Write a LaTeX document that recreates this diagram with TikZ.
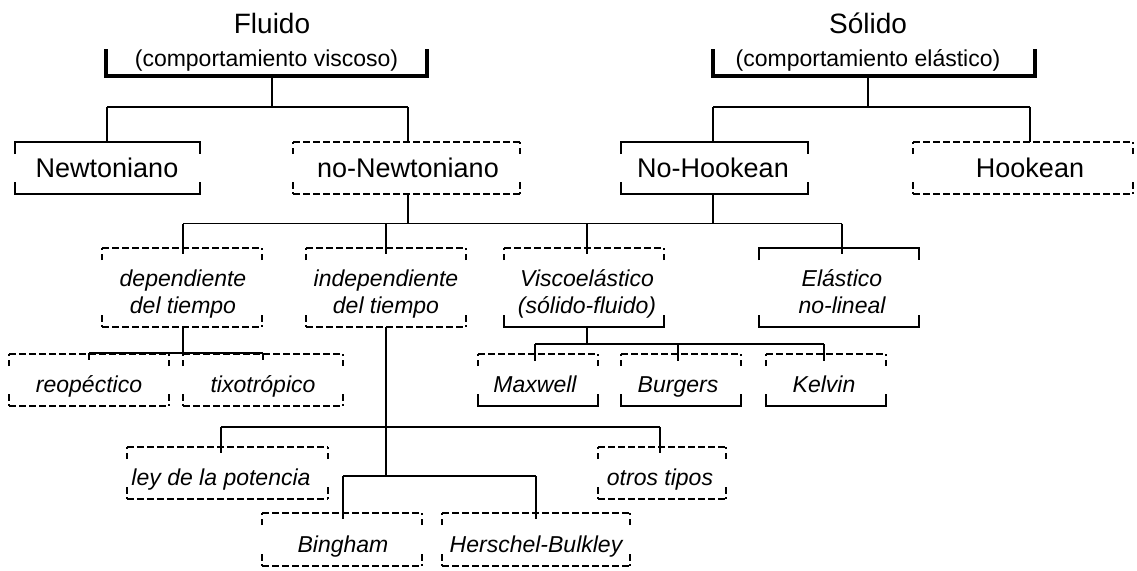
\documentclass[tikz,border=0pt]{standalone}
\usepackage{fontspec}
\setmainfont{Liberation Sans}
\usetikzlibrary{calc}
\newcommand\FontTitle{\fontsize{28}{33}\selectfont}
\newcommand\FontSub{\fontsize{23}{27}\selectfont}
\newcommand\FontBig{\fontsize{27}{32}\selectfont}
\newcommand\FontIt{\fontsize{23}{27}\selectfont\itshape}
\tikzset{
  frame/.style={inner sep=0pt, outer sep=0pt, draw=none},
  lbl/.style={inner sep=0pt, outer sep=0pt, anchor=base},
  dsh/.style={dash pattern=on 6.5pt off 3.5pt},
  thickstem/.style={line width=2.3pt},
}
% bracket pieces
\newcommand\TopSolid[1]{\draw ([yshift=-12pt]#1.north west) -- (#1.north west) -- (#1.north east) -- ([yshift=-12pt]#1.north east);}
\newcommand\BotSolid[1]{\draw ([yshift=12pt]#1.south west) -- (#1.south west) -- (#1.south east) -- ([yshift=12pt]#1.south east);}
\newcommand\TopDash[1]{\draw[dsh] ([yshift=-12pt]#1.north west) -- (#1.north west);
  \draw[dsh] ([yshift=-12pt]#1.north east) -- (#1.north east);
  \draw[dsh] (#1.north west) -- (#1.north east);}
\newcommand\BotDash[1]{\draw[dsh] ([yshift=12pt]#1.south west) -- (#1.south west);
  \draw[dsh] ([yshift=12pt]#1.south east) -- (#1.south east);
  \draw[dsh] (#1.south west) -- (#1.south east);}
\begin{document}
\begin{tikzpicture}[x=1pt,y=-1pt,line width=1.2pt]
\useasboundingbox (0,0) rectangle (1137,570);

% ---------- frames ----------
\node[frame,minimum width=321pt,minimum height=27pt] (fluido) at (266.5,62.5) {};
\node[frame,minimum width=322pt,minimum height=27pt] (solido) at (874,62.5) {};
\node[frame,minimum width=185pt,minimum height=52pt] (newt) at (107.5,168) {};
\node[frame,minimum width=227pt,minimum height=52pt] (nonewt) at (406.5,168) {};
\node[frame,minimum width=187pt,minimum height=52pt] (nohook) at (714.5,168) {};
\node[frame,minimum width=220pt,minimum height=52pt] (hook) at (1023,168) {};
\node[frame,minimum width=160pt,minimum height=79pt] (dep) at (182,287.5) {};
\node[frame,minimum width=160pt,minimum height=79pt] (indep) at (386,287.5) {};
\node[frame,minimum width=160pt,minimum height=79pt] (visco) at (584,287.5) {};
\node[frame,minimum width=160pt,minimum height=79pt] (elast) at (839,287.5) {};
\node[frame,minimum width=160pt,minimum height=52pt] (reop) at (89,380) {};
\node[frame,minimum width=160pt,minimum height=52pt] (tixo) at (263,380) {};
\node[frame,minimum width=120pt,minimum height=52pt] (maxw) at (538,380) {};
\node[frame,minimum width=120pt,minimum height=52pt] (burg) at (681,380) {};
\node[frame,minimum width=120pt,minimum height=52pt] (kelv) at (826,380) {};
\node[frame,minimum width=201pt,minimum height=52pt] (ley) at (227.5,473) {};
\node[frame,minimum width=128pt,minimum height=52pt] (otros) at (662,473) {};
\node[frame,minimum width=160pt,minimum height=53pt] (bing) at (342,539.5) {};
\node[frame,minimum width=188pt,minimum height=53pt] (hers) at (536,539.5) {};

% ---------- texts ----------
\node[lbl,font=\FontTitle] (fluT) at (272,33) {Fluido};
\node[lbl,font=\FontSub] (fluS) at (266.5,66) {(comportamiento viscoso)};
\node[lbl,font=\FontTitle] (solT) at (868,33) {Sólido};
\node[lbl,font=\FontSub] (solS) at (868,66) {(comportamiento elástico)};
\node[lbl,font=\FontBig] (newtT) at (107,177.5) {Newtoniano};
\node[lbl,font=\FontBig] (nonewtT) at (408,177.5) {no-Newtoniano};
\node[lbl,font=\FontBig] (nohookT) at (713,177.5) {No-Hookean};
\node[lbl,font=\FontBig] (hookT) at (1030,177.5) {Hookean};
\node[lbl,font=\FontIt] (depA) at (183,286) {dependiente};
\node[lbl,font=\FontIt] (depB) at (183,313) {del tiempo};
\node[lbl,font=\FontIt] (indepA) at (386,286) {independiente};
\node[lbl,font=\FontIt] (indepB) at (386,313) {del tiempo};
\node[lbl,font=\FontIt] (viscoA) at (587,286) {Viscoelástico};
\node[lbl,font=\FontIt] (viscoB) at (587,313) {(sólido-fluido)};
\node[lbl,font=\FontIt] (elastA) at (842,286) {Elástico};
\node[lbl,font=\FontIt] (elastB) at (842,313) {no-lineal};
\node[lbl,font=\FontIt] (reopT) at (89,392) {reopéctico};
\node[lbl,font=\FontIt] (tixoT) at (263,392) {tixotrópico};
\node[lbl,font=\FontIt] (maxwT) at (535,392) {Maxwell};
\node[lbl,font=\FontIt] (burgT) at (678,392) {Burgers};
\node[lbl,font=\FontIt] (kelvT) at (824,392) {Kelvin};
\node[lbl,font=\FontIt] (leyT) at (221,485) {ley de la potencia};
\node[lbl,font=\FontIt] (otrosT) at (660,485) {otros tipos};
\node[lbl,font=\FontIt] (bingT) at (343,552) {Bingham};
\node[lbl,font=\FontIt] (hersT) at (536,552) {Herschel-Bulkley};

% ---------- brackets ----------
\draw[line width=3.3pt] (fluido.north west) -- (fluido.south west) -- (fluido.south east) -- (fluido.north east);
\draw[line width=3.3pt] (solido.north west) -- (solido.south west) -- (solido.south east) -- (solido.north east);
\TopSolid{newt}\BotSolid{newt}
\TopDash{nonewt}\BotDash{nonewt}
\TopSolid{nohook}\BotSolid{nohook}
\TopDash{hook}\BotDash{hook}
\TopDash{dep}\BotDash{dep}
\TopDash{indep}\BotDash{indep}
\TopDash{visco}\BotSolid{visco}
\TopSolid{elast}\BotSolid{elast}
\TopDash{reop}\BotDash{reop}
\TopDash{tixo}\BotDash{tixo}
\TopDash{maxw}\BotSolid{maxw}
\TopDash{burg}\BotSolid{burg}
\TopDash{kelv}\BotSolid{kelv}
\TopDash{ley}\BotDash{ley}
\TopDash{otros}\BotDash{otros}
\TopDash{bing}\BotDash{bing}
\TopDash{hers}\BotDash{hers}

% ---------- connectors ----------
\coordinate (bus1) at (0,107);
\coordinate (bus2) at (0,223.5);
\coordinate (bus3) at (0,353);
\coordinate (bus4) at (0,344);
\coordinate (bus5) at (0,427);
\coordinate (bus6) at (0,476);

% Fluido
\draw (fluT |- fluido.south) -- (fluT |- bus1);
\draw (newtT |- bus1) -- (nonewtT |- bus1);
\draw (newtT |- bus1) -- (newtT |- newt.north);
\draw (nonewtT |- bus1) -- (nonewtT |- nonewt.north);
% Solido
\draw (solT |- solido.south) -- (solT |- bus1);
\draw (nohookT |- bus1) -- (hookT |- bus1);
\draw (nohookT |- bus1) -- (nohookT |- nohook.north);
\draw (hookT |- bus1) -- (hookT |- hook.north);
% second level
\draw[thickstem] (nonewtT |- nonewt.south) -- (nonewtT |- bus2);
\draw (nohookT |- nohook.south) -- (nohookT |- bus2);
\draw (depA |- bus2) -- (elastA |- bus2);
\draw (depA |- bus2) -- ($(depA |- dep.north)+(0,6)$);
\draw (indepA |- bus2) -- ($(indepA |- indep.north)+(0,6)$);
\draw (viscoA |- bus2) -- ($(viscoA |- visco.north)+(0,6)$);
\draw (elastA |- bus2) -- ($(elastA |- elast.north)+(0,6)$);
% dependiente children
\draw (depA |- dep.south) -- (depA |- bus3);
\draw (reopT |- bus3) -- (tixoT |- bus3);
\draw (reopT |- bus3) -- ($(reopT |- reop.north)+(0,6)$);
\draw (tixoT |- bus3) -- ($(tixoT |- tixo.north)+(0,6)$);
% viscoelastico children
\draw[thickstem] (viscoA |- visco.south) -- (viscoA |- bus4);
\draw (maxwT |- bus4) -- (kelvT |- bus4);
\draw (maxwT |- bus4) -- ($(maxwT |- maxw.north)+(0,7)$);
\draw (burgT |- bus4) -- ($(burgT |- burg.north)+(0,7)$);
\draw (kelvT |- bus4) -- ($(kelvT |- kelv.north)+(0,7)$);
% independiente children
\draw[line width=1.4pt] (indepA |- indep.south) -- (indepA |- bus6);
\draw (leyT |- bus5) -- (otrosT |- bus5);
\draw (leyT |- bus5) -- ($(leyT |- ley.north)+(0,6)$);
\draw (otrosT |- bus5) -- ($(otrosT |- otros.north)+(0,6)$);
\draw (bingT |- bus6) -- (hersT |- bus6);
\draw (bingT |- bus6) -- ($(bingT |- bing.north)+(0,6)$);
\draw (hersT |- bus6) -- ($(hersT |- hers.north)+(0,6)$);
\end{tikzpicture}
\end{document}
